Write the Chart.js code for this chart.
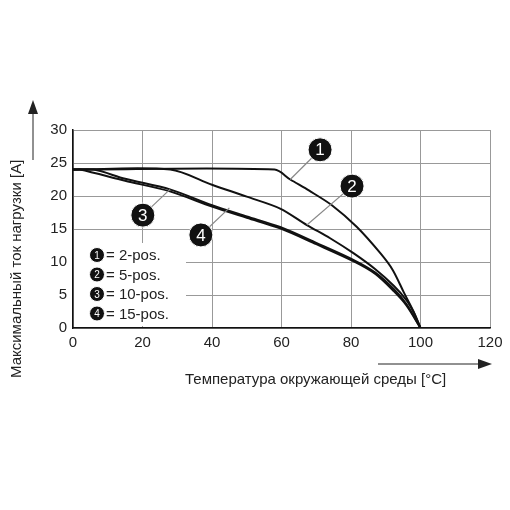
<!DOCTYPE html>
<html><head><meta charset="utf-8">
<script src="https://cdn.jsdelivr.net/npm/chart.js@4/dist/chart.umd.min.js"></script>
<style>body{margin:0;background:#fff}#wrap{width:510px;height:510px}</style>
</head><body><div id="wrap"><canvas id="c" width="510" height="510"></canvas></div>
<script>
const curve1 = [[0,24],[58,24],[62.5,22.5],[68,20.8],[74.5,18.6],[81.7,15.3],[88.5,11.3],[92,8.8],[95.2,5.4],[98,2.5],[100,0]];
const curve2 = [[0,24],[28,24],[40,21.7],[50,19.9],[59.6,18.1],[67.3,15.6],[74,13.6],[80.8,11.3],[87,8.9],[92.3,6.4],[96,4.2],[98,2.4],[100,0]];
const curve3 = [[0,24],[6,24],[15,22.6],[27.9,21.0],[40,18.6],[50,16.9],[59.6,15.3],[70,12.9],[80.8,10.3],[87,8.4],[92.3,5.9],[96,3.6],[100,0]];
const curve4 = [[0,24],[2,24],[15,22.3],[27.9,20.7],[40,18.4],[50,16.7],[59.6,15.1],[70,12.7],[80.8,10.1],[87,8.2],[92.3,5.6],[96,3.4],[100,0]];
const xTicks = [0,20,40,60,80,100,120];
const yTicks = [0,5,10,15,20,25,30];
const markers = [
  {n:'1', at:[71.1,27.0], to:[62.5,22.5]},
  {n:'2', at:[80.3,21.5], to:[67.3,15.6]},
  {n:'3', at:[20.1,17.1], to:[27.9,21.0]},
  {n:'4', at:[36.8,14.1], to:[45,18.2]}
];
const legendItems = ['2-pos.','5-pos.','10-pos.','15-pos.'];
const xTitle = 'Температура окружающей среды [°C]';
const yTitle = 'Максимальный ток нагрузки [A]';

const toPts = a => a.map(p => ({x:p[0], y:p[1]}));
const ds = c => ({data: toPts(c), showLine:true, borderColor:'#111', borderWidth:2, pointRadius:0, fill:false, tension:0.3});

function badge(ctx, x, y, r, n, fs) {
  ctx.beginPath(); ctx.arc(x, y, r, 0, Math.PI*2);
  ctx.fillStyle = '#111'; ctx.fill();
  ctx.strokeStyle = '#fff'; ctx.lineWidth = 1; ctx.stroke();
  ctx.fillStyle = '#fff'; ctx.font = fs + 'px "Liberation Sans", Arial';
  ctx.textAlign = 'center'; ctx.textBaseline = 'middle';
  ctx.fillText(n, x, y + 1);
}

const deco = {
  id: 'deco',
  afterDatasetsDraw(chart) {
    const {ctx, scales:{x, y}, chartArea:a} = chart;
    ctx.save();
    // markers with leader lines
    markers.forEach(m => {
      const bx = x.getPixelForValue(m.at[0]), by = y.getPixelForValue(m.at[1]);
      const tx = x.getPixelForValue(m.to[0]), ty = y.getPixelForValue(m.to[1]);
      ctx.strokeStyle = '#888'; ctx.lineWidth = 1.2;
      ctx.beginPath(); ctx.moveTo(bx, by); ctx.lineTo(tx, ty); ctx.stroke();
      badge(ctx, bx, by, 12, m.n, 17);
    });
    // legend box
    ctx.fillStyle = '#fff';
    ctx.fillRect(a.left + 1, a.bottom - 85, 112, 83);
    legendItems.forEach((t, i) => {
      const cy = a.bottom - 73 + i * 19.5;
      badge(ctx, a.left + 24, cy, 7.5, String(i+1), 10);
      ctx.fillStyle = '#222'; ctx.font = '15px "Liberation Sans", Arial';
      ctx.textAlign = 'left'; ctx.textBaseline = 'middle';
      ctx.fillText('= ' + t, a.left + 33, cy + 1);
    });
    // titles and arrows
    ctx.fillStyle = '#222'; ctx.strokeStyle = '#222'; ctx.lineWidth = 1;
    ctx.font = '15px "Liberation Sans", Arial';
    ctx.textAlign = 'left'; ctx.textBaseline = 'middle';
    ctx.fillText(xTitle, 185, 380);
    ctx.beginPath(); ctx.moveTo(378, 364); ctx.lineTo(480, 364); ctx.stroke();
    ctx.beginPath(); ctx.moveTo(492, 364); ctx.lineTo(478, 359); ctx.lineTo(478, 369); ctx.closePath(); ctx.fill();
    ctx.save(); ctx.translate(17, 378); ctx.rotate(-Math.PI/2);
    ctx.fillText(yTitle, 0, 0); ctx.restore();
    ctx.beginPath(); ctx.moveTo(33, 160); ctx.lineTo(33, 112); ctx.stroke();
    ctx.beginPath(); ctx.moveTo(33, 100); ctx.lineTo(28, 114); ctx.lineTo(38, 114); ctx.closePath(); ctx.fill();
    ctx.restore();
  }
};

new Chart(document.getElementById('c'), {
  type: 'scatter',
  data: {datasets: [ds(curve1), ds(curve2), ds(curve3), ds(curve4)]},
  plugins: [deco],
  options: {
    responsive: false, animation: false,
    layout: {padding: {top: 130, right: 20, left: 0, bottom: 0}},
    plugins: {legend: {display: false}, tooltip: {enabled: false}},
    scales: {
      x: {type: 'linear', min: 0, max: 120,
        afterBuildTicks: s => { s.ticks = xTicks.map(v => ({value: v})); },
        afterFit: s => { s.height = 182; },
        grid: {color: '#999', lineWidth: 1, drawTicks: false},
        border: {color: '#111', width: 1.5},
        ticks: {color: '#222', padding: 6, font: {size: 15, family: '"Liberation Sans", Arial'}}},
      y: {min: 0, max: 30,
        afterBuildTicks: s => { s.ticks = yTicks.map(v => ({value: v})); },
        afterFit: s => { s.width = 73; },
        grid: {color: '#999', lineWidth: 1, drawTicks: false},
        border: {color: '#111', width: 1.5},
        ticks: {color: '#222', padding: 6, font: {size: 15, family: '"Liberation Sans", Arial'}}}
    }
  }
});
</script></body></html>
